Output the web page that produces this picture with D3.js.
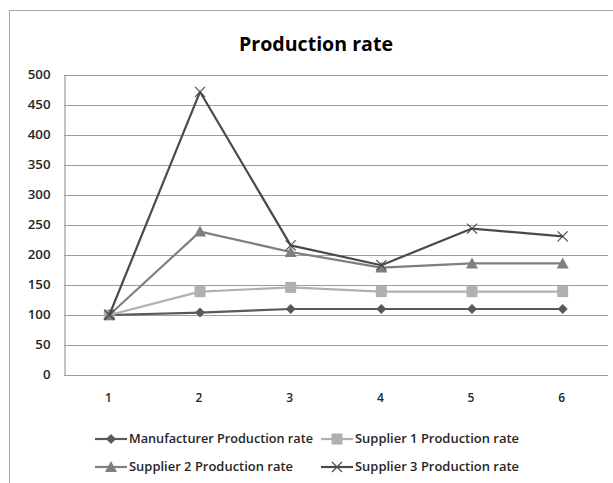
<!DOCTYPE html>
<html>
<head>
<meta charset="utf-8">
<script src="https://cdn.jsdelivr.net/npm/d3@7"></script>
<style>
  html, body { margin: 0; padding: 0; background: #fff; }
  svg { display: block; }
  text { font-family: "Open Sans", "DejaVu Sans", sans-serif; }
</style>
</head>
<body>
<svg id="chart" width="613" height="483"></svg>
<script>
// Chart data
const categories = ["1", "2", "3", "4", "5", "6"];
const manufacturerRate = [100, 104, 110, 110, 110, 110];
const supplier1Rate = [100, 139, 146, 139, 139, 139];
const supplier2Rate = [100, 239, 205, 179, 186, 186];
const supplier3Rate = [100, 472, 216, 183, 244, 231];
const yTicks = [0, 50, 100, 150, 200, 250, 300, 350, 400, 450, 500];

const series = [
  { name: "Manufacturer Production rate", values: manufacturerRate, color: "#595959", marker: "diamond" },
  { name: "Supplier 1 Production rate", values: supplier1Rate, color: "#b0b0b0", marker: "square" },
  { name: "Supplier 2 Production rate", values: supplier2Rate, color: "#7f7f7f", marker: "triangle" },
  { name: "Supplier 3 Production rate", values: supplier3Rate, color: "#4a4a4a", marker: "cross" }
];

const svg = d3.select("#chart");

// outer chart frame
svg.append("rect")
  .attr("x", 9.5).attr("y", 10.5)
  .attr("width", 640).attr("height", 500)
  .attr("fill", "#fff").attr("stroke", "#a6a6a6").attr("stroke-width", 1);

const plot = { left: 64, right: 608, top: 75, bottom: 375 };

const x = d3.scaleBand().domain(categories).range([plot.left, plot.right]);
const y = d3.scaleLinear().domain([0, 500]).range([plot.bottom, plot.top]);
const cx = d => x(d) + x.bandwidth() / 2;

// title
svg.append("text")
  .attr("x", 239).attr("y", 51)
  .attr("font-family", "'Open Sans', sans-serif")
  .attr("font-weight", "bold")
  .attr("font-size", 20)
  .attr("textLength", 154)
  .attr("lengthAdjust", "spacingAndGlyphs")
  .attr("fill", "#000")
  .text("Production rate");

// horizontal gridlines
svg.append("g")
  .selectAll("line")
  .data(yTicks)
  .join("line")
  .attr("x1", plot.left).attr("x2", plot.right)
  .attr("y1", d => Math.round(y(d)) + 0.5).attr("y2", d => Math.round(y(d)) + 0.5)
  .attr("stroke", "#9c9c9c").attr("stroke-width", 1.2);

// y axis
const yAxis = svg.append("g")
  .attr("transform", `translate(${plot.left + 0.5},0)`)
  .call(d3.axisLeft(y).tickValues(yTicks).tickSize(0).tickPadding(14));
yAxis.select(".domain").attr("stroke", "#9c9c9c").attr("stroke-width", 1.2);
yAxis.selectAll("text")
  .attr("font-family", "'Open Sans', sans-serif")
  .attr("font-size", 12).attr("font-weight", 600).attr("fill", "#262626")
  .attr("textLength", d => String(d).length * 7.6)
  .attr("lengthAdjust", "spacingAndGlyphs");

// x axis labels
const xAxis = svg.append("g")
  .attr("transform", `translate(0,${plot.bottom})`)
  .call(d3.axisBottom(x).tickSize(0).tickPadding(18));
xAxis.select(".domain").remove();
xAxis.selectAll("text")
  .attr("font-family", "'Open Sans', sans-serif")
  .attr("font-size", 12).attr("font-weight", 600).attr("fill", "#262626")
  .attr("dx", -1);

// marker drawing
function drawMarker(g, type, color, px, py) {
  if (type === "diamond") {
    g.append("path").attr("d", `M${px},${py - 5}L${px + 5},${py}L${px},${py + 5}L${px - 5},${py}Z`).attr("fill", color);
  } else if (type === "square") {
    g.append("rect").attr("x", px - 5.5).attr("y", py - 5.5).attr("width", 11).attr("height", 11).attr("fill", color);
  } else if (type === "triangle") {
    g.append("path").attr("d", `M${px},${py - 6}L${px + 6},${py + 5}L${px - 6},${py + 5}Z`).attr("fill", color);
  } else if (type === "cross") {
    g.append("path").attr("d", `M${px - 5},${py - 5}L${px + 5},${py + 5}M${px - 5},${py + 5}L${px + 5},${py - 5}`)
      .attr("stroke", color).attr("stroke-width", 1.2).attr("fill", "none");
  }
}

const line = d3.line().x((d, i) => cx(categories[i])).y(d => y(d));

const seriesG = svg.append("g");
series.forEach(s => {
  const g = seriesG.append("g");
  g.append("path")
    .attr("d", line(s.values))
    .attr("fill", "none")
    .attr("stroke", s.color)
    .attr("stroke-width", 2.2)
    .attr("stroke-linejoin", "round");
  s.values.forEach((v, i) => drawMarker(g, s.marker, s.color, cx(categories[i]), y(v)));
});

// legend
const legendPos = [
  { x: 95, y: 439, w: 184 }, { x: 321, y: 439, w: 164 },
  { x: 95, y: 467, w: 164 }, { x: 321, y: 467, w: 164 }
];
series.forEach((s, i) => {
  const p = legendPos[i];
  const g = svg.append("g");
  g.append("line")
    .attr("x1", p.x).attr("x2", p.x + 32)
    .attr("y1", p.y).attr("y2", p.y)
    .attr("stroke", s.color).attr("stroke-width", 2.2);
  drawMarker(g, s.marker, s.color, p.x + 16, p.y);
  g.append("text")
    .attr("x", p.x + 34).attr("y", p.y)
    .attr("dy", "0.35em")
    .attr("font-family", "'Open Sans', sans-serif")
    .attr("font-size", 12)
    .attr("font-weight", 600)
    .attr("textLength", p.w)
    .attr("lengthAdjust", "spacingAndGlyphs")
    .attr("fill", "#262626")
    .text(s.name);
});
</script>
</body>
</html>
